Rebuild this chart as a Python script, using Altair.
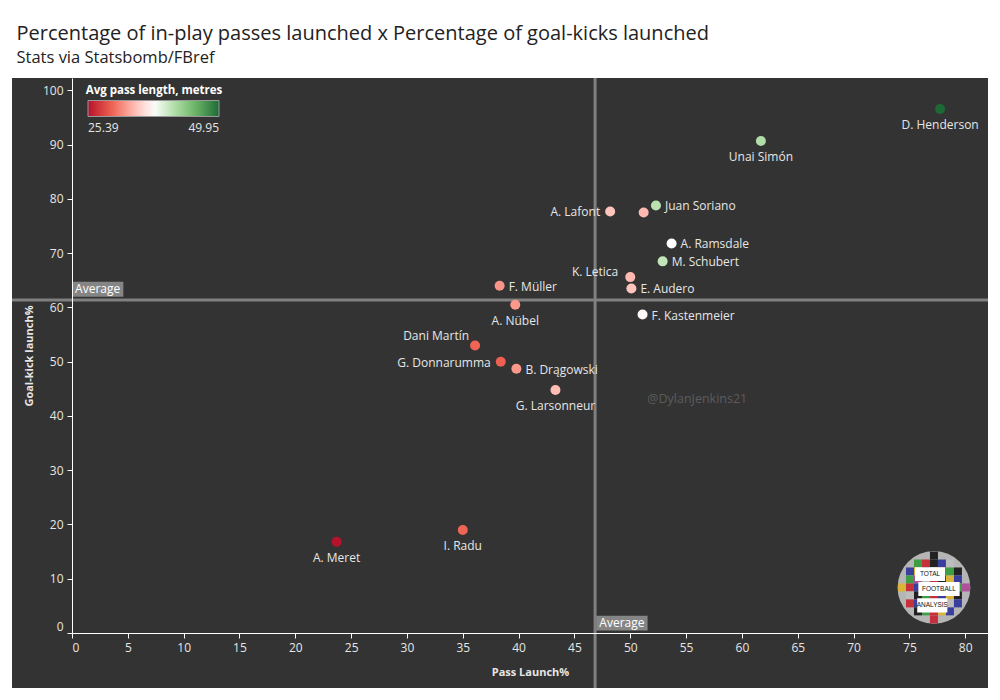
import altair as alt
import pandas as pd

FONT = "Open Sans"
PANEL = "#333333"
TEXT = "#e6e6e6"

names = ["D. Henderson", "Unai Simón", "Juan Soriano", "A. Lafont", "", "A. Ramsdale", "M. Schubert",
         "K. Letica", "E. Audero", "F. Müller", "A. Nübel", "F. Kastenmeier", "Dani Martín",
         "G. Donnarumma", "B. Drągowski", "G. Larsonneur", "A. Meret", "I. Radu"]
pass_launch = [77.75, 61.7, 52.3, 48.2, 51.2, 53.7, 52.9, 50.0, 50.1, 38.3, 39.7, 51.1, 36.1, 38.4, 39.8, 43.3, 23.7, 35.0]
gk_launch = [96.6, 90.7, 78.8, 77.7, 77.5, 71.8, 68.5, 65.6, 63.5, 64.0, 60.5, 58.7, 53.0, 50.0, 48.7, 44.8, 16.8, 19.0]
pass_length = [49.95, 41.6, 41.2, 34.6, 34.0, 37.67, 40.8, 34.0, 34.6, 32.2, 32.4, 37.3, 30.0, 29.8, 32.4, 34.2, 25.39, 30.0]
sides = ["below", "below", "right", "left", "none", "right", "right", "nearleft", "right", "right", "below", "right",
         "upleft", "left", "right", "below", "below", "below"]

avg_x = 46.85
avg_y = 61.4
color_domain = [25.39, 29.5, 33.5, 37.67, 41.5, 45.5, 49.95]
color_range = ["#b5122e", "#ec5a4b", "#ffb0a5", "#ffffff", "#b3dfa9", "#6cb568", "#1d6a37"]

tag_text = ["Average", "Average"]
tag_x = [0.0, 46.95]
tag_x2 = [4.6, 51.55]
tag_y = [62.0, 0.45]
tag_y2 = [64.75, 3.2]

logo_x = 77.2
logo_y = 8.4
logo_rows = ["k", "grkbw", "bykwrgk", "gmwrkyb", "yrbgwkrgm", "wkgrbyk", "rbkmgwb", "kgryb", "r"]
logo_colors = {"k": "#222222", "r": "#c5303a", "g": "#3f9e45", "b": "#3a3f9e", "y": "#d9b43a", "m": "#b0509a", "w": "#bdbdbd"}
box_label = ["TOTAL", "FOOTBALL", "ANALYSIS"]
box_x = [75.5, 75.8, 75.7]
box_x2 = [78.2, 79.5, 78.4]
box_y = [12.1, 9.4, 6.4]
box_y2 = [9.6, 6.8, 3.8]

df = pd.DataFrame({"name": names, "x": pass_launch, "y": gk_launch, "len": pass_length, "side": sides})
tags = pd.DataFrame({"t": tag_text, "x": tag_x, "x2": tag_x2, "y": tag_y, "y2": tag_y2})
tags["cx"] = (tags.x + tags.x2) / 2
tags["cy"] = (tags.y + tags.y2) / 2

cells = []
for r, row in enumerate(logo_rows):
    half = (len(row) - 1) / 2
    for c, code in enumerate(row):
        cells.append({"x": logo_x + (c - half) * 0.716, "y": logo_y + (4 - r) * 1.47, "c": logo_colors[code]})
cells = pd.DataFrame(cells)
boxes = pd.DataFrame({"t": box_label, "x": box_x, "x2": box_x2, "y": box_y, "y2": box_y2})
boxes["cx"] = (boxes.x + boxes.x2) / 2
boxes["cy"] = (boxes.y + boxes.y2) / 2

W, H = 916, 555
x_scale = alt.Scale(domain=[0, 82.04], nice=False, zero=False)
y_scale = alt.Scale(domain=[0, 102.3], nice=False, zero=False)
x_axis = alt.Axis(title="Pass Launch%", values=list(range(0, 85, 5)), grid=False, labelFlush=True, zindex=1,
                  domainColor="#ffffff", tickColor="#ffffff", tickSize=5, labelColor=TEXT, labelFont=FONT, labelFontSize=12,
                  labelPadding=4, titleColor=TEXT, titleFont=FONT, titleFontSize=11, titleFontWeight="bold", titlePadding=13)
y_axis = alt.Axis(title="Goal-kick launch%", values=list(range(0, 110, 10)), grid=False, labelFlush=True, zindex=1,
                  domainColor="#ffffff", tickColor="#ffffff", tickSize=5, labelColor=TEXT, labelFont=FONT, labelFontSize=12,
                  labelPadding=4, titleColor=TEXT, titleFont=FONT, titleFontSize=11, titleFontWeight="bold", titlePadding=8)
X = alt.X("x:Q", scale=x_scale, axis=x_axis)
Y = alt.Y("y:Q", scale=y_scale, axis=y_axis)

panel = alt.Chart(pd.DataFrame({"a": [0]})).mark_rect(color=PANEL).encode(
    x=alt.value(-60), x2=alt.value(W), y=alt.value(0), y2=alt.value(H + 55))

vline = alt.Chart(pd.DataFrame({"x": [avg_x]})).mark_rule(color="#808080", strokeWidth=3).encode(
    x=X, y=alt.value(0), y2=alt.value(H + 55))
hline = alt.Chart(pd.DataFrame({"y": [avg_y]})).mark_rule(color="#808080", strokeWidth=3).encode(
    y=Y, x=alt.value(-60), x2=alt.value(W))

tag_rect = alt.Chart(tags).mark_rect(color="#858585").encode(x=X, x2="x2:Q", y=Y, y2="y2:Q")
tag_txt = alt.Chart(tags).mark_text(color="#ffffff", font=FONT, fontSize=12).encode(
    x=alt.X("cx:Q", scale=x_scale, axis=x_axis), y=alt.Y("cy:Q", scale=y_scale, axis=y_axis), text="t:N")

points = alt.Chart(df).mark_circle(size=100, opacity=1).encode(
    x=X, y=Y,
    color=alt.Color("len:Q", scale=alt.Scale(domain=color_domain, range=color_range, interpolate="rgb"),
                    legend=alt.Legend(orient="none", legendX=14, legendY=7, direction="horizontal",
                                      title="Avg pass length, metres", titleColor="#ffffff", titleFont=FONT,
                                      titleFontSize=11.5, titleFontWeight="bold", titlePadding=4, titleAnchor="middle",
                                      labelColor=TEXT, labelFont=FONT, labelFontSize=12, labelOffset=6, gradientLength=131,
                                      gradientThickness=16, gradientStrokeColor="#999999", gradientStrokeWidth=1,
                                      values=[25.39, 49.95], format=".2f")))


def label(side, **kw):
    return alt.Chart(df[df.side == side]).mark_text(color=TEXT, font=FONT, fontSize=12, **kw).encode(x=X, y=Y, text="name:N")


lab_right = label("right", align="left", dx=9, dy=1)
lab_left = label("left", align="right", dx=-10, dy=1)
lab_below = label("below", align="center", dy=16)
lab_upleft = label("upleft", align="right", dx=-6, dy=-9)
lab_nearleft = label("nearleft", align="right", dx=-12, dy=-5)

mark = alt.Chart(pd.DataFrame({"x": [56.0], "y": [43.1], "t": ["@DylanJenkins21"]})).mark_text(
    color="#5c5c5c", font=FONT, fontSize=12.5).encode(x=X, y=Y, text="t:N")

logo_base = alt.Chart(pd.DataFrame({"x": [logo_x], "y": [logo_y]})).mark_circle(size=5300, color="#b5b5b5", opacity=1).encode(x=X, y=Y)
logo_cells = alt.Chart(cells).mark_square(size=64, opacity=1).encode(x=X, y=Y, color=alt.Color("c:N", scale=None, legend=None))
logo_box = alt.Chart(boxes).mark_rect(color="#ffffff").encode(x=X, x2="x2:Q", y=Y, y2="y2:Q")
logo_txt = alt.Chart(boxes).mark_text(color="#111111", font="Liberation Sans", fontSize=6.5).encode(
    x=alt.X("cx:Q", scale=x_scale, axis=x_axis), y=alt.Y("cy:Q", scale=y_scale, axis=y_axis), text="t:N")

chart = alt.layer(panel, vline, hline, tag_rect, tag_txt, points, lab_right, lab_left, lab_below, lab_upleft, lab_nearleft, mark,
                  logo_base, logo_cells, logo_box, logo_txt).resolve_scale(color="independent").properties(
    width=W, height=H,
    padding={"left": 2, "top": 16, "right": 0, "bottom": 0},
    background="#ffffff",
    title=alt.TitleParams("Percentage of in-play passes launched x Percentage of goal-kicks launched",
                          subtitle="Stats via Statsbomb/FBref", anchor="start", frame="bounds", dx=6, offset=10,
                          font=FONT, fontSize=20, fontWeight="normal", color="#222222",
                          subtitleFont=FONT, subtitleFontSize=16.5, subtitleColor="#222222", subtitlePadding=6),
).configure_view(stroke=None)

chart.save("out.html", embed_options={"renderer": "svg", "actions": False})
